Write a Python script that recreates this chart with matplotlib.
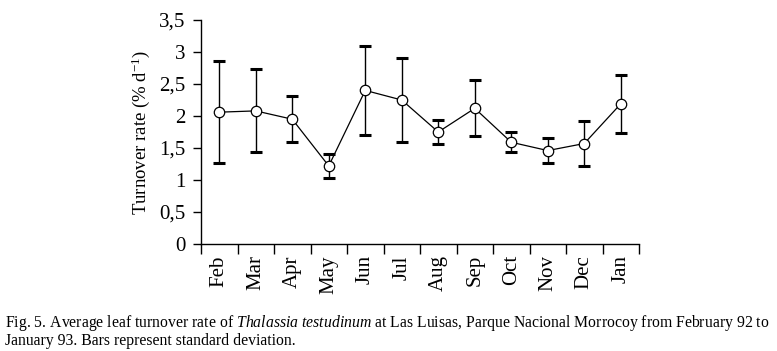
import numpy as np
import matplotlib.pyplot as plt

months = ['Feb', 'Mar', 'Apr', 'May', 'Jun', 'Jul', 'Aug', 'Sep', 'Oct', 'Nov', 'Dec', 'Jan']
turnover = [2.06, 2.08, 1.95, 1.22, 2.40, 2.25, 1.75, 2.12, 1.59, 1.46, 1.57, 2.19]
sd = [0.80, 0.65, 0.36, 0.19, 0.70, 0.65, 0.18, 0.44, 0.16, 0.20, 0.35, 0.45]
yticks = [0, 0.5, 1, 1.5, 2, 2.5, 3, 3.5]

plt.rcParams['font.family'] = ['Liberation Serif', 'DejaVu Serif']
plt.rcParams['mathtext.fontset'] = 'custom'
plt.rcParams['mathtext.rm'] = 'Liberation Serif'
plt.rcParams['mathtext.it'] = 'Liberation Serif:italic'

fig = plt.figure(figsize=(7.77, 3.51), dpi=100)
ax = fig.add_axes([0.2587, 0.3048, 0.5637, 0.6382])

x = np.arange(len(months))
ax.errorbar(x, turnover, yerr=sd, fmt='none', ecolor='black', elinewidth=1.0,
            capsize=4.5, capthick=2.2, zorder=2)
ax.plot(x, turnover, color='black', linewidth=0.9, marker='o', markersize=7.5,
        markerfacecolor='white', markeredgecolor='black', markeredgewidth=0.9, zorder=3)

ax.set_ylim(0, 3.5)
ax.set_xlim(-0.5, len(months) - 0.5)
ax.set_yticks(yticks)
ax.set_yticklabels([f'{v:g}'.replace('.', ',') for v in yticks], fontsize=15)
ax.set_xticks(x)
ax.set_xticklabels(months, rotation=90, fontsize=15)
ax.set_xticks(np.arange(len(months) + 1) - 0.5, minor=True)
ax.tick_params(axis='x', which='major', length=0, pad=8)
ax.tick_params(axis='x', which='minor', length=7, width=1, direction='out')
ax.tick_params(axis='y', length=6, width=1, direction='out', pad=5)

for side in ['top', 'right']:
    ax.spines[side].set_visible(False)
ax.spines['left'].set_linewidth(1)
ax.spines['bottom'].set_linewidth(1)

ax.set_ylabel('Turnover rate (% d$^{-1}$)', fontsize=13.5, labelpad=5)

fig.text(0.007, 0.068,
         'Fig. 5. Average leaf turnover rate of $\\it{Thalassia\\ testudinum}$ at Las Luisas, '
         'Parque Nacional Morrocoy from February 92 to',
         fontsize=11.3, ha='left', va='baseline')
fig.text(0.007, 0.017, 'January 93. Bars represent standard deviation.',
         fontsize=11.3, ha='left', va='baseline')

fig.savefig('out.png', dpi=100)
